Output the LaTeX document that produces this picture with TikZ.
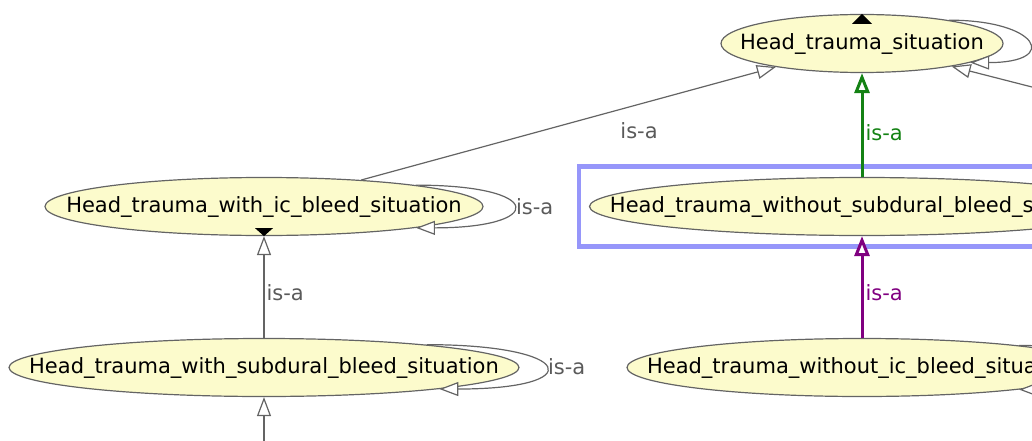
\documentclass[tikz,border=0pt]{standalone}
\usepackage{fontspec}
\setmainfont{DejaVu Sans}
\usetikzlibrary{arrows.meta,shapes.geometric,fit}

\definecolor{clsfill}{RGB}{252,251,204}
\definecolor{edgegray}{RGB}{100,100,100}
\definecolor{isagreen}{RGB}{20,130,20}
\definecolor{isapurple}{RGB}{128,0,128}
\definecolor{selblue}{RGB}{150,150,250}
\definecolor{lblgray}{RGB}{90,90,90}

\tikzset{
  cls/.style={ellipse, draw=edgegray, line width=1.2pt, fill=clsfill,
    inner xsep=-300pt, inner ysep=0pt, minimum height=58pt},
  isa/.style={draw=edgegray, line width=1.2pt,
    -{Triangle[fill=white, length=19pt, width=14pt]}},
  isathick/.style={line width=3pt,
    -{Triangle[fill=white, length=20pt, width=15pt]}},
  isalbl/.style={text=lblgray, inner sep=2pt},
  selbox/.style={draw=selblue, line width=4.5pt},
}

\begin{document}
\begin{tikzpicture}[x=1pt, y=-1pt, font=\fontsize{21pt}{25pt}\selectfont]
    \useasboundingbox (0,0) rectangle (1032,441);
    \clip (0,0) rectangle (1032,441);

    \node[cls, minimum width=282pt] (hts) at (862,43.5) {Head\_trauma\_situation};

    \node[cls, minimum width=438pt] (ic) at (264,206.5) {Head\_trauma\_with\_ic\_bleed\_situation};
    \node[cls, minimum width=545pt] (wosub) at (862,206.5) {Head\_trauma\_without\_subdural\_bleed\_situation};

    \node[cls, minimum width=510pt] (wsub) at (264,367.5) {Head\_trauma\_with\_subdural\_bleed\_situation};
    \node[cls, minimum width=470pt] (woic) at (862,367.5) {Head\_trauma\_without\_ic\_bleed\_situation};

    % classes outside the view
    \coordinate (rest) at (1200,130);
    \coordinate (child) at (264,470);

    % selected class
    \node[selbox, fit=(wosub), inner xsep=10pt, inner ysep=10.5pt] (sel) {};

    \draw (ic) edge[isa] node[isalbl, pos=0.67, below=16pt] {is-a} (hts);
    \draw (rest) edge[isa] (hts);
    \draw (wosub) edge[isa, isathick, draw=isagreen] node[isalbl, text=isagreen, pos=0.43, right] {is-a} (hts);

    \draw (wsub) edge[isa] node[isalbl, pos=0.44, right] {is-a} (ic);
    \draw (woic) edge[isa, isathick, draw=isapurple] node[isalbl, text=isapurple, pos=0.44, right] {is-a} (wosub);
    \draw (child) edge[isa] (wsub);

    % self loops
    \draw (hts.15) edge[isa, out=0, in=0, distance=90pt] (hts.-10);
    \draw (ic.8) edge[isa, out=0, in=0, distance=130pt] node[isalbl, right] {is-a} (ic.-8);
    \draw (wsub.8) edge[isa, out=0, in=0, distance=150pt] node[isalbl, right] {is-a} (wsub.-7);
    \draw (woic.8) edge[isa, out=0, in=0, distance=120pt] (woic.-8);

    % collapsed markers
    \fill (hts.north) -- ++(-10,10) -- ++(20,0) -- cycle;
    \fill (ic.south) -- ++(-9,-8) -- ++(18,0) -- cycle;
\end{tikzpicture}
\end{document}
